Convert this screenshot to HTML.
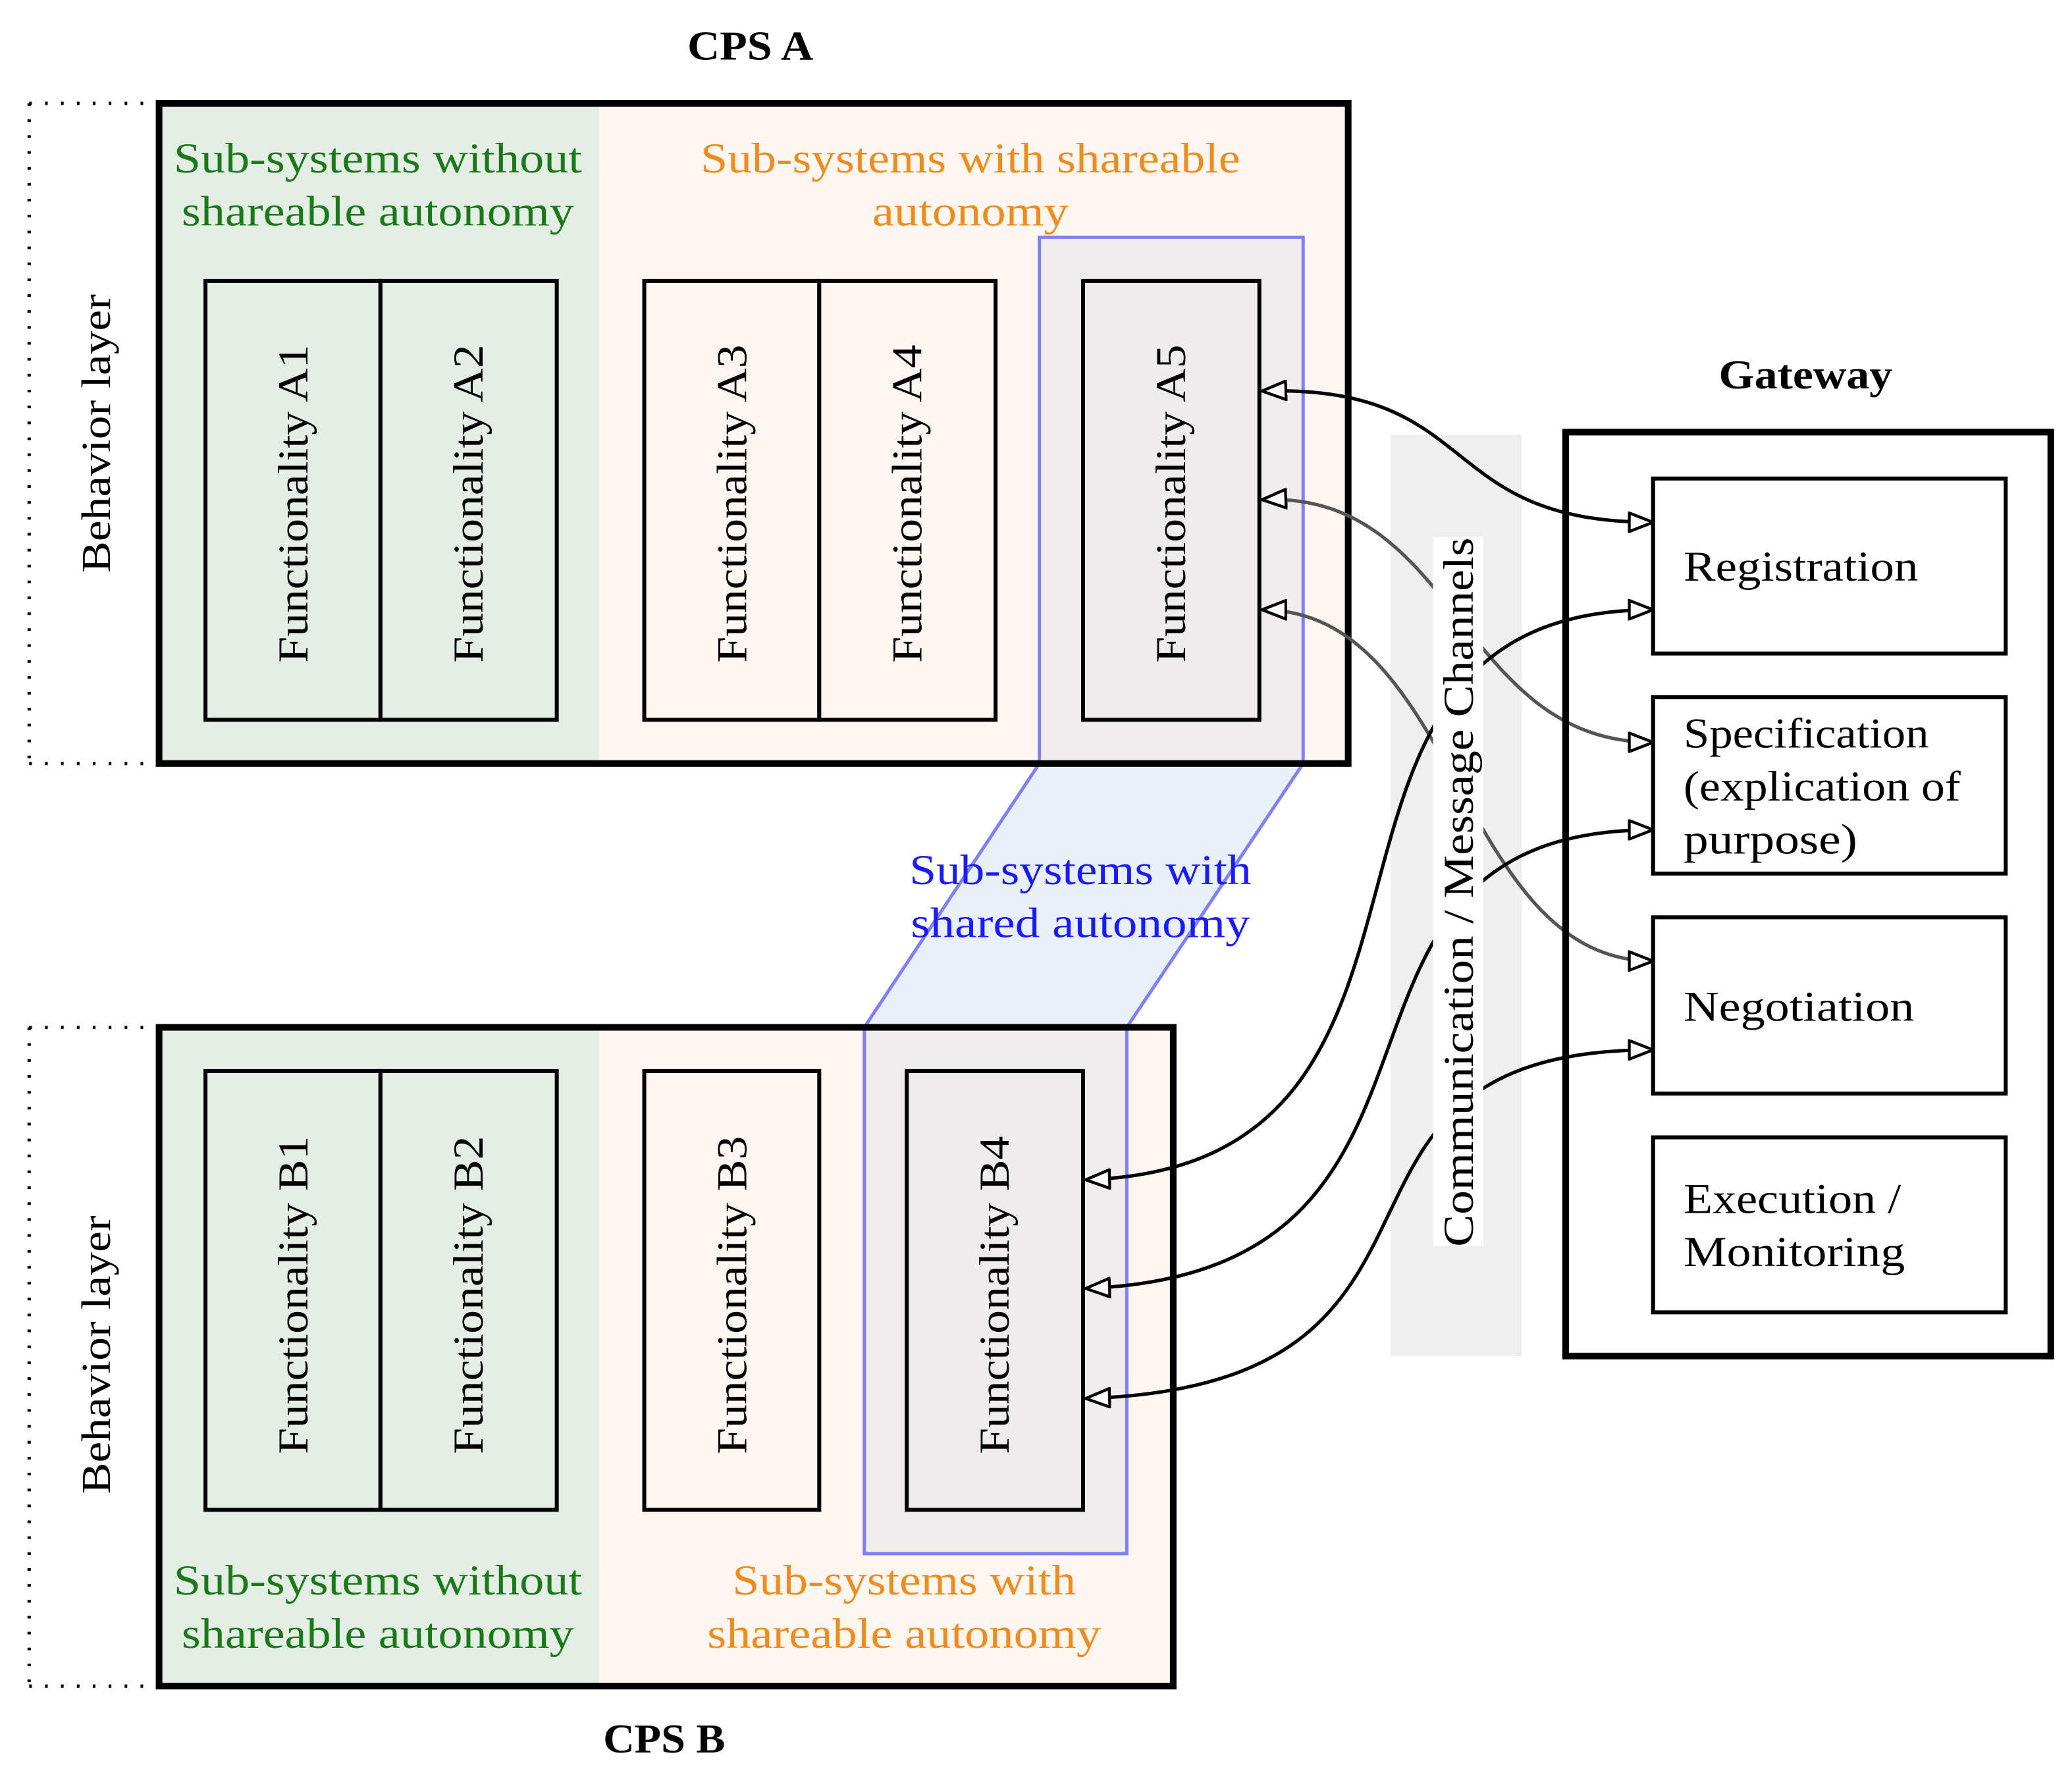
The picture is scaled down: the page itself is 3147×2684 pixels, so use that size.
<!DOCTYPE html>
<html><head><meta charset="utf-8"><style>html,body{margin:0;padding:0;background:#fff}svg{display:block}</style></head><body>
<svg width="3147" height="2684" viewBox="0 0 1563 1333" preserveAspectRatio="none" xmlns="http://www.w3.org/2000/svg" font-family="'Liberation Serif', serif">
<defs>
<marker id="ah" viewBox="0 0 20 16" refX="19" refY="8" markerWidth="20" markerHeight="16" markerUnits="userSpaceOnUse" orient="auto-start-reverse">
<path d="M1,1 L19,8 L1,15 Z" fill="#fff" stroke="#000" stroke-width="2.2"/></marker>
</defs>
<g lengthAdjust="spacingAndGlyphs">
<text x="566" y="45" font-size="31" font-weight="bold" text-anchor="middle" textLength="95" lengthAdjust="spacingAndGlyphs">CPS A</text>
<text x="501" y="1322" font-size="31" font-weight="bold" text-anchor="middle" textLength="92" lengthAdjust="spacingAndGlyphs">CPS B</text>
<text x="1362" y="293" font-size="31" font-weight="bold" text-anchor="middle" textLength="131" lengthAdjust="spacingAndGlyphs">Gateway</text>
</g>
<g stroke="#000" stroke-width="2.5" stroke-dasharray="2,10" fill="none">
<path d="M22,78 H118 M22,576 H118 M22,78 V576"/>
<path d="M22,775 H118 M22,1272 H118 M22,775 V1272"/>
</g>
<text transform="translate(83,327) rotate(-90)" font-size="31" text-anchor="middle" textLength="210" lengthAdjust="spacingAndGlyphs">Behavior layer</text>
<text transform="translate(83,1022) rotate(-90)" font-size="31" text-anchor="middle" textLength="210" lengthAdjust="spacingAndGlyphs">Behavior layer</text>
<rect x="120" y="78" width="332" height="498" fill="#e5eee5"/>
<rect x="452" y="78" width="565" height="498" fill="#fef6f0"/>
<rect x="120" y="775" width="332" height="497" fill="#e5eee5"/>
<rect x="452" y="775" width="433" height="497" fill="#fef6f0"/>
<rect x="784" y="179" width="199" height="397" fill="#efedee"/>
<path d="M784,576 L983,576 L850,775 L652,775 Z" fill="#eaf0fa"/>
<rect x="652" y="775" width="198" height="397" fill="#efedee"/>
<path d="M784,576 V179 H983 V576 L850,775 V1172 H652 V775 Z" fill="none" stroke="#8080ff" stroke-width="2.5"/>
<rect x="120" y="78" width="897" height="498" fill="none" stroke="#000" stroke-width="5"/>
<rect x="120" y="775" width="765" height="497" fill="none" stroke="#000" stroke-width="5"/>
<g font-size="32" text-anchor="middle">
<text x="285" y="130" fill="#1a7a1a" textLength="308" lengthAdjust="spacingAndGlyphs">Sub-systems without</text>
<text x="285" y="170" fill="#1a7a1a" textLength="296" lengthAdjust="spacingAndGlyphs">shareable autonomy</text>
<text x="732" y="130" fill="#f08c1e" textLength="407" lengthAdjust="spacingAndGlyphs">Sub-systems with shareable</text>
<text x="732" y="170" fill="#f08c1e" textLength="148" lengthAdjust="spacingAndGlyphs">autonomy</text>
<text x="815" y="667" fill="#1a1aff" textLength="258" lengthAdjust="spacingAndGlyphs">Sub-systems with</text>
<text x="815" y="707" fill="#1a1aff" textLength="256" lengthAdjust="spacingAndGlyphs">shared autonomy</text>
<text x="285" y="1203" fill="#1a7a1a" textLength="308" lengthAdjust="spacingAndGlyphs">Sub-systems without</text>
<text x="285" y="1243" fill="#1a7a1a" textLength="296" lengthAdjust="spacingAndGlyphs">shareable autonomy</text>
<text x="682" y="1203" fill="#f08c1e" textLength="259" lengthAdjust="spacingAndGlyphs">Sub-systems with</text>
<text x="682" y="1243" fill="#f08c1e" textLength="297" lengthAdjust="spacingAndGlyphs">shareable autonomy</text>
</g>
<g stroke="#000" stroke-width="3">
<rect x="155" y="212" width="132" height="331" fill="#e5eee5"/>
<rect x="287" y="212" width="133" height="331" fill="#e5eee5"/>
<rect x="486" y="212" width="132" height="331" fill="#fef6f0"/>
<rect x="618" y="212" width="133" height="331" fill="#fef6f0"/>
<rect x="817" y="212" width="133" height="331" fill="#eeecec"/>
<rect x="155" y="808" width="132" height="331" fill="#e5eee5"/>
<rect x="287" y="808" width="133" height="331" fill="#e5eee5"/>
<rect x="486" y="808" width="132" height="331" fill="#fef6f0"/>
<rect x="684" y="808" width="133" height="331" fill="#eeecec"/>
</g>
<g font-size="32" text-anchor="middle">
<text transform="translate(232,380) rotate(-90)" textLength="240" lengthAdjust="spacingAndGlyphs">Functionality A1</text>
<text transform="translate(364,380) rotate(-90)" textLength="240" lengthAdjust="spacingAndGlyphs">Functionality A2</text>
<text transform="translate(563,380) rotate(-90)" textLength="240" lengthAdjust="spacingAndGlyphs">Functionality A3</text>
<text transform="translate(695,380) rotate(-90)" textLength="240" lengthAdjust="spacingAndGlyphs">Functionality A4</text>
<text transform="translate(894,380) rotate(-90)" textLength="240" lengthAdjust="spacingAndGlyphs">Functionality A5</text>
<text transform="translate(232,977) rotate(-90)" textLength="240" lengthAdjust="spacingAndGlyphs">Functionality B1</text>
<text transform="translate(364,977) rotate(-90)" textLength="240" lengthAdjust="spacingAndGlyphs">Functionality B2</text>
<text transform="translate(563,977) rotate(-90)" textLength="240" lengthAdjust="spacingAndGlyphs">Functionality B3</text>
<text transform="translate(761,977) rotate(-90)" textLength="240" lengthAdjust="spacingAndGlyphs">Functionality B4</text>
</g>
<rect x="1049" y="328" width="99" height="695" fill="#efefef"/>
<g fill="none" stroke="#000" stroke-width="2.6" marker-start="url(#ah)" marker-end="url(#ah)">
<path d="M952,295 C1120,290 1080,394 1247,394"/>
<path d="M952,377 C1100,370 1100,560 1247,560" stroke="#555"/>
<path d="M952,460 C1100,460 1100,725 1247,725" stroke="#555"/>
<path d="M819,890 C1140,880 940,460 1247,460"/>
<path d="M819,972 C1140,960 960,626 1247,626"/>
<path d="M819,1055 C1140,1045 960,792 1247,792"/>
</g>
<rect x="1081" y="405" width="38" height="535" fill="#fff"/>
<text transform="translate(1111,673) rotate(-90)" font-size="32" text-anchor="middle" textLength="535" lengthAdjust="spacingAndGlyphs">Communication / Message Channels</text>
<rect x="1181" y="326" width="366" height="697" fill="none" stroke="#000" stroke-width="5"/>
<g stroke="#000" stroke-width="3" fill="#fff">
<rect x="1247" y="361" width="266" height="132"/>
<rect x="1247" y="526" width="266" height="133"/>
<rect x="1247" y="692" width="266" height="133"/>
<rect x="1247" y="858" width="266" height="132"/>
</g>
<g font-size="32">
<text x="1270" y="438" textLength="177" lengthAdjust="spacingAndGlyphs">Registration</text>
<text x="1270" y="564" textLength="185" lengthAdjust="spacingAndGlyphs">Specification</text>
<text x="1270" y="604" textLength="209" lengthAdjust="spacingAndGlyphs">(explication of</text>
<text x="1270" y="644" textLength="131" lengthAdjust="spacingAndGlyphs">purpose)</text>
<text x="1270" y="770" textLength="174" lengthAdjust="spacingAndGlyphs">Negotiation</text>
<text x="1270" y="915" textLength="164" lengthAdjust="spacingAndGlyphs">Execution /</text>
<text x="1270" y="955" textLength="167" lengthAdjust="spacingAndGlyphs">Monitoring</text>
</g>
</svg>
</body></html>
